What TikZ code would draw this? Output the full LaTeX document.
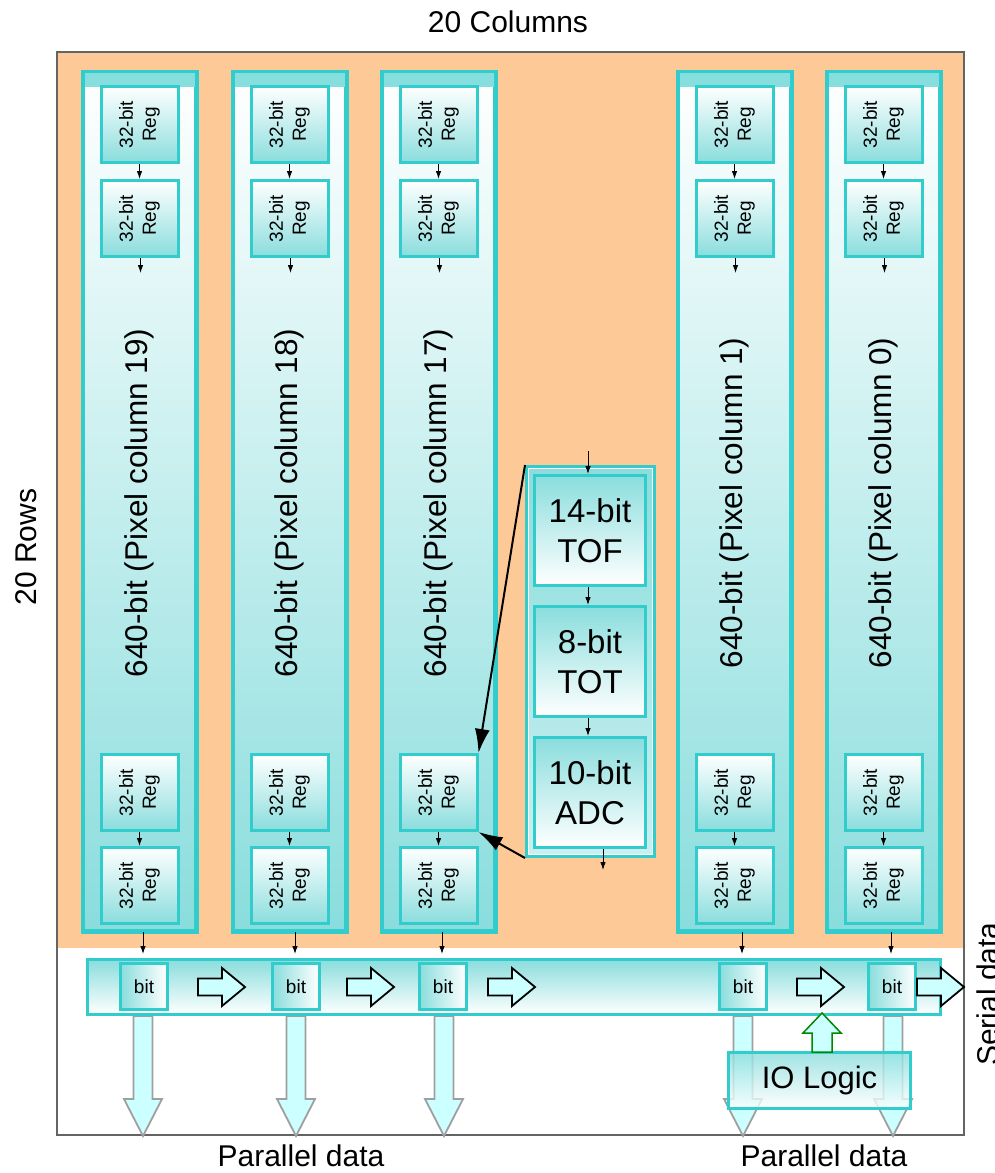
\documentclass[tikz,border=0pt]{standalone}
\usepackage{fontspec}
\setmainfont{Liberation Sans}
\usetikzlibrary{arrows.meta}
\definecolor{orangebg}{RGB}{253,201,151}
\definecolor{cyb}{RGB}{51,204,204}
\definecolor{cyfill}{RGB}{138,221,221}
\definecolor{cyband}{RGB}{134,222,222}
\definecolor{arrowfill}{RGB}{204,255,255}
\definecolor{greenb}{RGB}{0,136,0}
\definecolor{framec}{RGB}{100,100,100}
\tikzset{
  colbox/.style={draw=cyb, line width=3pt, top color=white, bottom color=cyfill, minimum width=112pt, minimum height=858pt, inner sep=0pt},
  regbox/.style={draw=cyb, line width=3pt, top color=white, bottom color=cyfill, minimum width=77pt, minimum height=76pt, inner sep=0pt},
  regtxt/.style={rotate=90, align=center, font=\fontsize{19}{23}\selectfont},
  coltxt/.style={rotate=90, font=\fontsize{31.5}{36}\selectfont},
  midbox/.style={draw=cyb, line width=3pt, top color=cyfill, bottom color=cyfill!45!white, minimum width=128pt, minimum height=390pt, inner sep=0pt},
  databox/.style={draw=cyb, line width=3pt, top color=cyfill, bottom color=white, minimum width=111pt, minimum height=110pt, inner sep=0pt, align=center, font=\fontsize{33}{40}\selectfont},
  barbox/.style={draw=cyb, line width=3pt, top color=cyfill, bottom color=white, minimum width=853pt, minimum height=55pt, inner sep=0pt},
  bitbox/.style={draw=cyb, line width=3pt, left color=cyfill, right color=white, minimum width=47pt, minimum height=46pt, inner sep=0pt, font=\fontsize{19}{21}\selectfont},
  iobox/.style={draw=cyb, line width=3pt, top color=cyfill, bottom color=white, fill opacity=0.8, text opacity=1, draw opacity=1, minimum width=182pt, minimum height=56pt, inner sep=0pt, font=\fontsize{31}{36}\selectfont},
  smallarrow/.style={-{Latex[length=8pt,width=5.5pt]}, line width=0.9pt, black},
  bigarrow/.style={-{Latex[length=24pt,width=15pt]}, line width=2pt, black},
  bigtxt/.style={font=\fontsize{30}{36}\selectfont},
  rarr/.pic={\draw[black, line width=1.8pt, fill=arrowfill, line join=miter] (0,-8.5) -- (24,-8.5) -- (24,-19) -- (47,0) -- (24,19) -- (24,8.5) -- (0,8.5) -- cycle;},
  darr/.pic={\draw[draw=gray!75, line width=1.8pt, fill=arrowfill, line join=miter] (-9.5,0) -- (-9.5,83) -- (-19,83) -- (0,120) -- (19,83) -- (9.5,83) -- (9.5,0) -- cycle;},
  uarr/.pic={\draw[draw=greenb, line width=1.5pt, fill=arrowfill, line join=miter] (-10,0) -- (-10,-19) -- (-19,-19) -- (0,-39) -- (19,-19) -- (10,-19) -- (10,0) -- cycle;}
}
\begin{document}
\begin{tikzpicture}[x=1pt,y=-1pt]
\useasboundingbox (0,0) rectangle (994,1173);
\fill[white] (0,0) rectangle (994,1173);
% frame
\fill[orangebg] (57,52) rectangle (964,948);
\draw[framec, line width=1.2pt] (57,52) rectangle (964,1135);
% titles
\node[bigtxt] (title) at (508,22) {20 Columns};
\node[bigtxt, rotate=90] (rows) at (26,547) {20 Rows};
\node[bigtxt, rotate=90] (serial) at (988,994) {Serial data};
\node[bigtxt] (par1) at (301,1156) {Parallel data};
\node[bigtxt] (par2) at (824,1156) {Parallel data};
% columns
\foreach \cx/\nm/\lab in {139.5/c19/19, 289.5/c18/18, 438.5/c17/17, 734.5/c1/1, 883.5/c0/0}{
  \node[colbox] (\nm) at (\cx,501.5) {};
  \fill[cyband] (\cx-55,72.5) rectangle (\cx+55,87);
  \draw[cyb, line width=3pt] (\nm.north west) rectangle (\nm.south east);
  \node[regbox] (\nm-a) at (\cx,124.5) {};
  \node[regtxt] at (\nm-a) {32-bit\\Reg};
  \node[regbox] (\nm-b) at (\cx,218.5) {};
  \node[regtxt] at (\nm-b) {32-bit\\Reg};
  \node[regbox] (\nm-c) at (\cx,792.5) {};
  \node[regtxt] at (\nm-c) {32-bit\\Reg};
  \node[regbox] (\nm-d) at (\cx,885.5) {};
  \node[regtxt] at (\nm-d) {32-bit\\Reg};
  \coordinate (\nm-out) at (\cx+1,273);
  \draw[smallarrow] (\nm-a.south) -- (\nm-b.north);
  \draw[smallarrow] (\nm-b.south -| \nm-out) -- (\nm-out);
  \draw[smallarrow] (\nm-c.south) -- (\nm-d.north);
  \node[coltxt] at (\cx,503) {640-bit (Pixel column \lab)};
}
% middle block
\node[midbox] (mid) at (590.5,661.5) {};
\draw[white, line width=1.5pt] ([shift={(3.5,3.5)}]mid.north west) rectangle ([shift={(-3.5,-3.5)}]mid.south east);
\node[databox] (tof) at (590,530.5) {14-bit\\TOF};
\node[databox] (tot) at (590,661.5) {8-bit\\TOT};
\node[databox] (adc) at (590,792.5) {10-bit\\ADC};
\coordinate (midin) at (588,451);
\coordinate (midout) at (603,870);
\draw[smallarrow] (midin) -- (midin |- tof.north);
\draw[smallarrow] (tof.south -| midin) -- (tot.north -| midin);
\draw[smallarrow] (tot.south -| midin) -- (adc.north -| midin);
\draw[smallarrow] (adc.south -| midout) -- (midout);
% parallel data down arrows
\foreach \bx in {143,296,444,743,893}{
  \pic at (\bx,1016) {darr};
}
% shift register bar
\node[barbox] (bar) at (513.5,987) {};
\foreach \cx/\nm/\bx in {139.5/c19/144, 289.5/c18/296, 438.5/c17/443, 734.5/c1/743, 883.5/c0/892}{
  \node[bitbox] (\nm-bit) at (\bx,986.5) {bit};
  \coordinate (\nm-in) at (\bx-1,954);
  \draw[smallarrow] (\nm.south -| \nm-in) -- (\nm-in);
}
\foreach \ax in {198,347,488,797,917}{
  \pic at (\ax,987) {rarr};
}
% IO logic
\node[iobox] (io) at (819.5,1080.5) {IO Logic};
\pic at (822,1052) {uarr};
% long arrows
\draw[bigarrow] (mid.north west) -- (c17-c.north east);
\draw[bigarrow] (mid.south west) -- (c17-c.south east);
\end{tikzpicture}
\end{document}
